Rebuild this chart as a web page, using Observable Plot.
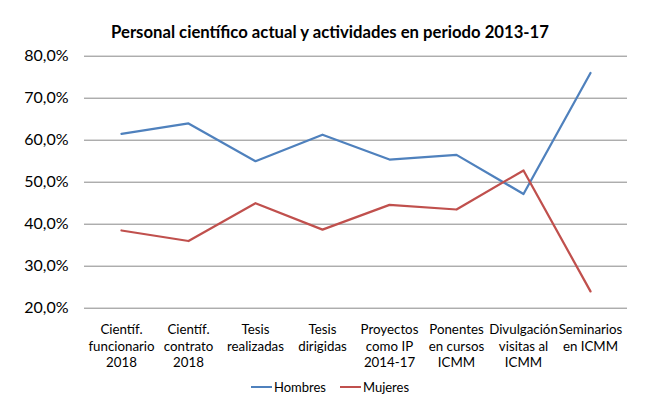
<!DOCTYPE html>
<html>
<head>
<meta charset="utf-8">
<script src="https://cdn.jsdelivr.net/npm/d3@7"></script>
<script src="https://cdn.jsdelivr.net/npm/@observablehq/plot@0.6"></script>
<style>
  html, body { margin: 0; padding: 0; background: #fff; }
  body { width: 660px; height: 415px; overflow: hidden; font-family: Lato, "Open Sans", sans-serif; color: #000; }
  #title { height: 45px; box-sizing: border-box; padding-top: 22px; line-height: 20px; text-align: center; font-weight: bold; font-size: 16.7px; }
  #chart svg { display: block; }
  #legend { display: flex; justify-content: center; align-items: center; height: 24px; font-size: 13px; margin-top: 0px; }
  .item { display: flex; align-items: center; margin: 0 7px; }
  .sw { display: inline-block; width: 21px; height: 2px; margin-right: 2px; }
</style>
</head>
<body>
<div id="title">Personal científico actual y actividades en periodo 2013-17</div>
<div id="chart"></div>
<div id="legend"></div>
<script>
const categories = [
  "Científ.\nfuncionario\n2018",
  "Científ.\ncontrato\n2018",
  "Tesis\nrealizadas",
  "Tesis\ndirigidas",
  "Proyectos\ncomo IP\n2014-17",
  "Ponentes\nen cursos\nICMM",
  "Divulgación\nvisitas al\nICMM",
  "Seminarios\nen ICMM"
];
const hombres = [61.5, 64.0, 55.0, 61.3, 55.4, 56.5, 47.2, 76.0];
const mujeres = [38.5, 36.0, 45.0, 38.7, 44.6, 43.5, 52.8, 24.0];
const yTicks = [20, 30, 40, 50, 60, 70, 80];
const seriesNames = ["Hombres", "Mujeres"];
const seriesColors = ["#4F81BD", "#C0504D"];

const rows = [];
categories.forEach((c, i) => {
  rows.push({cat: c, serie: seriesNames[0], v: hombres[i]});
  rows.push({cat: c, serie: seriesNames[1], v: mujeres[i]});
});

const chart = Plot.plot({
  width: 660,
  height: 330,
  marginLeft: 84,
  marginRight: 33,
  marginTop: 10.7,
  marginBottom: 67.3,
  style: {fontFamily: "Lato, 'Open Sans', sans-serif", color: "#000", background: "#fff"},
  x: {type: "point", domain: categories, padding: 0.5},
  y: {domain: [20, 80]},
  color: {domain: seriesNames, range: seriesColors},
  marks: [
    Plot.ruleY(yTicks, {stroke: "#888888", strokeWidth: 1}),
    Plot.axisY({ticks: yTicks, tickSize: 0, tickPadding: 16, fontSize: 16, label: null,
      tickFormat: d => d.toFixed(1).replace(".", ",") + "%"}),
    Plot.axisX({tickSize: 0, tickPadding: 14, fontSize: 13.3, lineHeight: 1.25, label: null}),
    Plot.line(rows, {x: "cat", y: "v", z: "serie", stroke: "serie", strokeWidth: 2.25, strokeLinejoin: "round"})
  ]
});
document.getElementById("chart").appendChild(chart);

const legend = document.getElementById("legend");
seriesNames.forEach((n, i) => {
  const it = document.createElement("div");
  it.className = "item";
  const sw = document.createElement("span");
  sw.className = "sw";
  sw.style.background = seriesColors[i];
  const t = document.createElement("span");
  t.textContent = n;
  it.appendChild(sw);
  it.appendChild(t);
  legend.appendChild(it);
});
</script>
</body>
</html>
